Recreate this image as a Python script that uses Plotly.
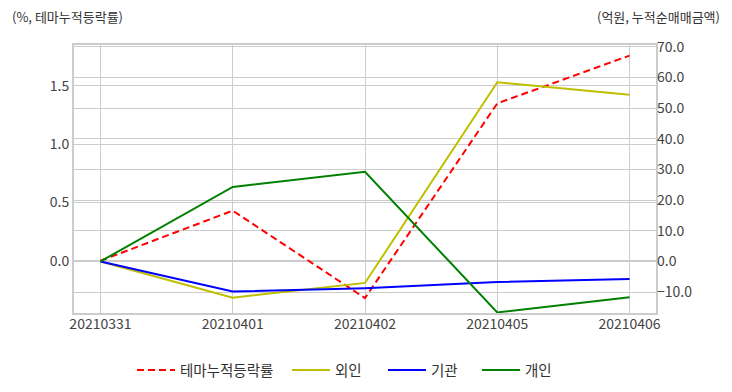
import plotly.graph_objects as go

dates = ["20210331", "20210401", "20210402", "20210405", "20210406"]
theme_rate = [0.0, 0.43, -0.32, 1.35, 1.76]        # %, left axis
foreign = [0.0, -11.8, -7.0, 58.4, 54.3]           # 억원, right axis
institution = [0.0, -9.8, -8.7, -6.7, -5.7]
individual = [0.0, 24.3, 29.2, -16.6, -11.7]

FONT = "Noto Sans CJK KR"
GRID = "#cccccc"
TICKC = "#444444"

# The page body has an 8px margin; compensate so the plot lands at the right pixels.
OFF = 8
W, H = 732 - OFF, 392 - OFF
L, R, T, B = 74 - OFF, 76, 45 - OFF, 79
PW, PH = 732 - 76 - 74, 313 - 45


def px_x(x):
    return (x - 74) / PW


def px_y(y):
    return (313 - y) / PH


fig = go.Figure()
fig.add_trace(go.Scatter(x=dates, y=theme_rate, name="테마누적등락률", mode="lines",
                         line=dict(color="#ff0000", width=2, dash="7px,4px"), yaxis="y",
                         legend="legend"))
fig.add_trace(go.Scatter(x=dates, y=foreign, name="외인", mode="lines",
                         line=dict(color="#bfbf00", width=2), yaxis="y2",
                         legend="legend2"))
fig.add_trace(go.Scatter(x=dates, y=institution, name="기관", mode="lines",
                         line=dict(color="#0000ff", width=2), yaxis="y2",
                         legend="legend3"))
fig.add_trace(go.Scatter(x=dates, y=individual, name="개인", mode="lines",
                         line=dict(color="#008000", width=2), yaxis="y2",
                         legend="legend4"))


def leg(line_start):
    return dict(orientation="h", x=px_x(line_start - 6), xanchor="left",
                y=px_y(370), yanchor="middle", font=dict(size=14.5, color="#333333"),
                itemwidth=38, bgcolor="rgba(0,0,0,0)")


fig.update_layout(
    width=W, height=H,
    margin=dict(l=L, r=R, t=T, b=B, autoexpand=False),
    paper_bgcolor="white", plot_bgcolor="white",
    font=dict(family=FONT, size=14, color=TICKC),
    xaxis=dict(type="category", range=[-0.2, 4.2], showgrid=True, gridcolor=GRID,
               gridwidth=1, zeroline=False, showline=True, linecolor=GRID, linewidth=2,
               mirror=True, ticks="", ticklabelstandoff=-3,
               tickfont=dict(size=14, color=TICKC)),
    yaxis=dict(range=[-0.448, 1.851], dtick=0.5, tickformat=".1f", showgrid=True,
               gridcolor=GRID, gridwidth=1, zeroline=False, showline=True,
               linecolor=GRID, linewidth=2, mirror=True, ticks="",
               tickfont=dict(size=14, color=TICKC)),
    yaxis2=dict(range=[-16.8, 70.55], dtick=10, tickformat=".1f", overlaying="y",
                side="right", showgrid=True, gridcolor=GRID, gridwidth=1,
                zeroline=False, showline=False, ticks="",
                tickfont=dict(size=14, color=TICKC)),
    legend=leg(138),
    legend2=leg(293),
    legend3=leg(389),
    legend4=leg(483),
    showlegend=True,
)

fig.add_annotation(text="(%, 테마누적등락률)", xref="paper", yref="paper",
                   x=px_x(10), y=px_y(16), xanchor="left", yanchor="middle",
                   showarrow=False, font=dict(size=13, color="#333333", family=FONT))
fig.add_annotation(text="(억원, 누적순매매금액)", xref="paper", yref="paper",
                   x=px_x(722), y=px_y(16), xanchor="right", yanchor="middle",
                   showarrow=False, font=dict(size=13, color="#333333", family=FONT))

fig.write_html("out.html")
